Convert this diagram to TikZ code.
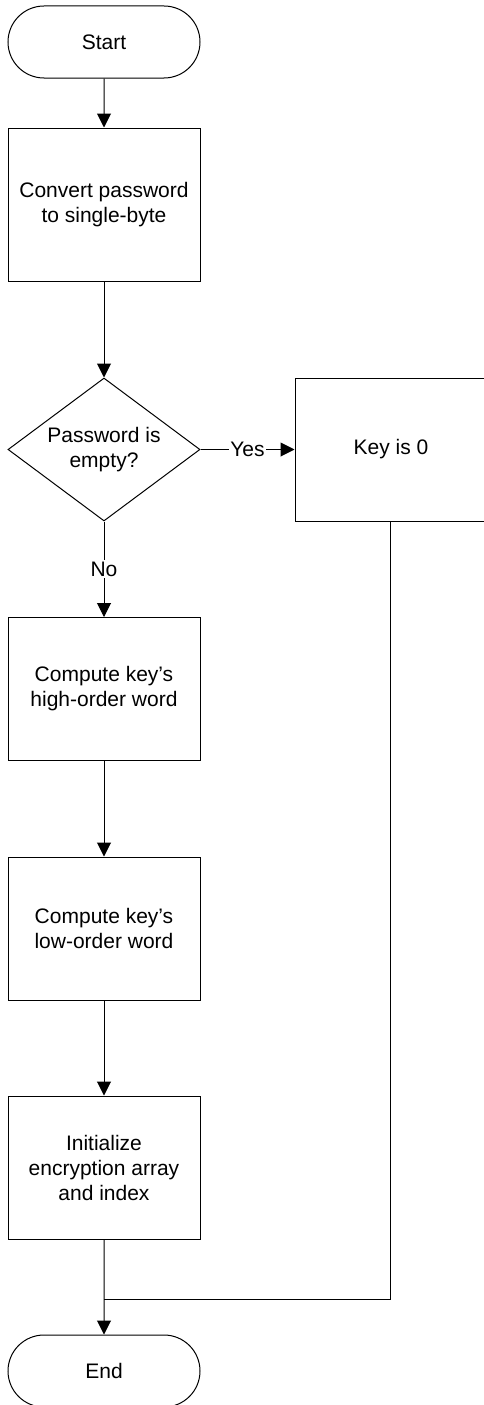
\documentclass[tikz,border=0pt]{standalone}
\usepackage{fontspec}
\setmainfont{Liberation Sans}
\usetikzlibrary{shapes.geometric,shapes.misc,arrows.meta}
\begin{document}
\begin{tikzpicture}[x=1pt,y=-1pt,
  every node/.style={font=\fontsize{21}{25}\selectfont, align=center, inner sep=0pt},
  term/.style={draw, line width=1pt, rounded rectangle, minimum width=192pt, minimum height=72pt},
  proc/.style={draw, line width=1pt, rectangle, minimum width=192pt, minimum height=143pt},
  dec/.style={draw, line width=1pt, diamond, aspect=1.34, minimum width=192pt, minimum height=143pt},
  conn/.style={line width=1pt, -{Triangle[width=14pt,length=14pt]}},
  plain/.style={line width=1pt},
  lbl/.style={fill=white, inner sep=1.5pt}]
\useasboundingbox (0,0) rectangle (483,1405);
\node[term] (start) at (104,42) {Start};
\node[proc, minimum height=153pt] (b1) at (104,204.5) {Convert password\\to single-byte};
\node[dec] (dec) at (104,449.5) {Password is\\empty?};
\node[proc] (key) at (391,449.5) {Key is 0};
\node[proc] (b2) at (104,689) {Compute key’s\\high-order word};
\node[proc] (b3) at (104,928.5) {Compute key’s\\low-order word};
\node[proc] (b4) at (104,1167.5) {Initialize\\encryption array\\and index};
\node[term] (end) at (104,1371) {End};
\coordinate (j) at (104,1299);
\draw[conn] (start) -- (b1);
\draw[conn] (b1) -- (dec);
\draw[conn] (dec) -- node[lbl]{Yes} (key);
\draw[conn] (dec) -- node[lbl]{No} (b2);
\draw[conn] (b2) -- (b3);
\draw[conn] (b3) -- (b4);
\draw[conn] (b4) -- (end);
\draw[plain] (key.south -| 390,0) -- (390,1299) -- (j);
\end{tikzpicture}
\end{document}
